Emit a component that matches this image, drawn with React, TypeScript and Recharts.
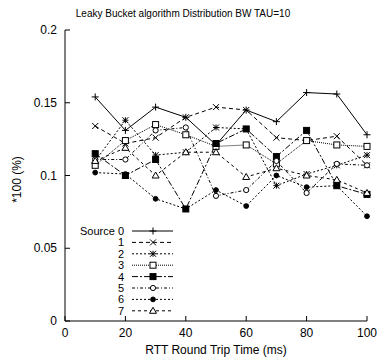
import React from "react";
import { LineChart, Line, XAxis, YAxis, Legend } from "recharts";

document.body.style.margin = "0";

// RTT (ms) sample points and per-source share of bandwidth
const rtt = [10, 20, 30, 40, 50, 60, 70, 80, 90, 100];
const source0 = [0.154, 0.131, 0.147, 0.14, 0.121, 0.145, 0.137, 0.157, 0.156, 0.128];
const source1 = [0.134, 0.122, 0.126, 0.14, 0.147, 0.145, 0.126, 0.124, 0.127, 0.107];
const source2 = [0.11, 0.138, 0.114, 0.116, 0.133, 0.132, 0.093, 0.101, 0.107, 0.114];
const source3 = [0.107, 0.124, 0.135, 0.128, 0.12, 0.121, 0.108, 0.124, 0.121, 0.12];
const source4 = [0.115, 0.1, 0.111, 0.077, 0.122, 0.132, 0.113, 0.131, 0.093, 0.087];
const source5 = [0.111, 0.111, 0.131, 0.133, 0.086, 0.09, 0.11, 0.088, 0.108, 0.107];
const source6 = [0.102, 0.101, 0.084, 0.077, 0.09, 0.079, 0.1, 0.092, 0.093, 0.072];
const source7 = [0.11, 0.119, 0.1, 0.116, 0.116, 0.099, 0.105, 0.1, 0.097, 0.088];

const xTicks = [0, 20, 40, 60, 80, 100];
const yTicks = [0, 0.05, 0.1, 0.15, 0.2];
const labels = ["Source 0", "1", "2", "3", "4", "5", "6", "7"];

const allSources = [source0, source1, source2, source3, source4, source5, source6, source7];
const data = rtt.map((x, i) => {
  const row: Record<string, number> = { x };
  allSources.forEach((s, k) => (row[`s${k}`] = s[i]));
  return row;
});

const series = [
  { key: "s0", shape: "plus", dash: undefined },
  { key: "s1", shape: "cross", dash: "4 3" },
  { key: "s2", shape: "star", dash: "2 2" },
  { key: "s3", shape: "square", dash: "1 1" },
  { key: "s4", shape: "fsquare", dash: "6 2 2 2" },
  { key: "s5", shape: "circle", dash: "3 2 1 2" },
  { key: "s6", shape: "fcircle", dash: "2 2" },
  { key: "s7", shape: "triangle", dash: "3 3" },
];

const FONT = "'Liberation Sans', Arial, sans-serif";
const INK = "#000";

function Marker({ cx, cy, shape }: { cx: number; cy: number; shape: string }) {
  const s = 3;
  const p = { stroke: INK, strokeWidth: 1 };
  switch (shape) {
    case "plus":
      return (
        <g {...p}>
          <line x1={cx - s - 0.5} y1={cy} x2={cx + s + 0.5} y2={cy} />
          <line x1={cx} y1={cy - s - 0.5} x2={cx} y2={cy + s + 0.5} />
        </g>
      );
    case "cross":
      return (
        <g {...p}>
          <line x1={cx - s} y1={cy - s} x2={cx + s} y2={cy + s} />
          <line x1={cx - s} y1={cy + s} x2={cx + s} y2={cy - s} />
        </g>
      );
    case "star":
      return (
        <g {...p}>
          <line x1={cx - s} y1={cy - s} x2={cx + s} y2={cy + s} />
          <line x1={cx - s} y1={cy + s} x2={cx + s} y2={cy - s} />
          <line x1={cx - s} y1={cy} x2={cx + s} y2={cy} />
          <line x1={cx} y1={cy - s} x2={cx} y2={cy + s} />
        </g>
      );
    case "square":
      return <rect x={cx - s} y={cy - s} width={2 * s} height={2 * s} fill="#fff" {...p} />;
    case "fsquare":
      return <rect x={cx - s} y={cy - s} width={2 * s} height={2 * s} fill={INK} {...p} />;
    case "circle":
      return <circle cx={cx} cy={cy} r={2.6} fill="#fff" {...p} />;
    case "fcircle":
      return <circle cx={cx} cy={cy} r={2.4} fill={INK} {...p} />;
    default:
      return (
        <polygon
          points={`${cx},${cy - s - 0.5} ${cx + s + 0.5},${cy + s - 0.5} ${cx - s - 0.5},${cy + s - 0.5}`}
          fill="#fff"
          {...p}
        />
      );
  }
}

const tickText = { fontFamily: FONT, fontSize: 12, fill: INK };

const BottomTick = ({ x, y, payload }: any) => (
  <g>
    <line x1={x} y1={y} x2={x} y2={y - 5} stroke={INK} />
    <text x={x} y={y + 16} textAnchor="middle" style={tickText}>
      {payload.value}
    </text>
  </g>
);

const LeftTick = ({ x, y, payload }: any) => (
  <g>
    <line x1={x} y1={y} x2={x + 5} y2={y} stroke={INK} />
    <text x={x - 8} y={y + 4} textAnchor="end" style={tickText}>
      {payload.value}
    </text>
  </g>
);

const TopTick = ({ x, y }: any) => <line x1={x} y1={y} x2={x} y2={y + 5} stroke={INK} />;
const RightTick = ({ x, y }: any) => <line x1={x} y1={y} x2={x - 5} y2={y} stroke={INK} />;

const YLabel = ({ viewBox }: any) => {
  const cx = viewBox.x + 17;
  const cy = viewBox.y + viewBox.height / 2 + 4;
  return (
    <text
      x={cx}
      y={cy}
      transform={`rotate(-90 ${cx} ${cy})`}
      textAnchor="middle"
      dominantBaseline="central"
      style={tickText}
    >
      *100 (%)
    </text>
  );
};

// key box drawn inside the plot, lower left, like gnuplot's
const renderLegend = () => (
  <svg width={377} height={358} style={{ position: "absolute", left: 0, top: 0, overflow: "visible" }}>
    <text x={183} y={17} textAnchor="middle" style={{ fontFamily: FONT, fontSize: 10, fill: INK }}>
      Leaky Bucket algorithm Distribution BW TAU=10
    </text>
    {series.map((s, i) => {
      const y = 231 + i * 11.4;
      return (
        <g key={s.key}>
          <text x={124} y={y + 4} textAnchor="end" style={{ fontFamily: FONT, fontSize: 11, fill: INK }}>
            {labels[i]}
          </text>
          <line x1={132} y1={y} x2={173} y2={y} stroke={INK} strokeDasharray={s.dash} />
          <Marker cx={153} cy={y} shape={s.shape} />
        </g>
      );
    })}
  </svg>
);

export default function App() {
  return (
    <div style={{ position: "relative", width: 377, height: 358, background: "#fff" }}>
      <LineChart width={377} height={358} data={data} margin={{ top: 30, right: 10, bottom: 0, left: 0 }}>
        <XAxis
          dataKey="x"
          type="number"
          domain={[0, 100]}
          ticks={xTicks}
          height={37}
          tickSize={0}
          tickMargin={0}
          stroke={INK}
          tick={<BottomTick />}
          interval={0}
          label={{
            value: "RTT Round Trip Time (ms)",
            position: "insideBottom",
            offset: 4,
            style: { fontFamily: FONT, fontSize: 12, fill: INK },
          }}
        />
        <XAxis
          xAxisId="top"
          orientation="top"
          dataKey="x"
          type="number"
          domain={[0, 100]}
          ticks={xTicks}
          height={0}
          tickSize={0}
          tickMargin={0}
          stroke={INK}
          tick={<TopTick />}
          interval={0}
          allowDataOverflow
        />
        <YAxis
          type="number"
          domain={[0, 0.2]}
          ticks={yTicks}
          width={65}
          tickSize={0}
          tickMargin={0}
          stroke={INK}
          tick={<LeftTick />}
          interval={0}
          label={<YLabel />}
        />
        <YAxis
          yAxisId="right"
          orientation="right"
          type="number"
          domain={[0, 0.2]}
          ticks={yTicks}
          width={0}
          tickSize={0}
          tickMargin={0}
          stroke={INK}
          tick={<RightTick />}
          interval={0}
          allowDataOverflow
        />
        <Legend
          layout="vertical"
          align="center"
          verticalAlign="middle"
          content={renderLegend}
          wrapperStyle={{ position: "absolute", left: 0, top: 0, width: 377, height: 358, pointerEvents: "none" }}
        />
        {series.map((s) => (
          <Line
            key={s.key}
            dataKey={s.key}
            type="linear"
            stroke={INK}
            strokeWidth={1}
            strokeDasharray={s.dash}
            isAnimationActive={false}
            dot={(p: any) => <Marker key={`${s.key}-${p.index}`} cx={p.cx} cy={p.cy} shape={s.shape} />}
            activeDot={false}
          />
        ))}
      </LineChart>
    </div>
  );
}
